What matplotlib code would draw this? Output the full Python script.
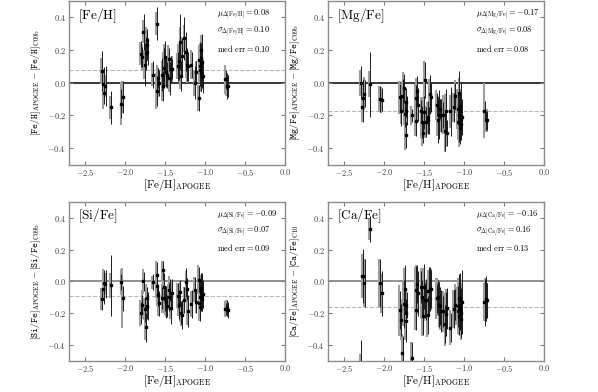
import matplotlib
matplotlib.use("Agg")
import matplotlib.pyplot as plt
import numpy as np

plt.rcParams['mathtext.fontset'] = 'cm'
plt.rcParams['font.family'] = 'serif'
plt.rcParams['font.serif'] = ['DejaVu Serif']

# [Fe/H]_APOGEE of the stars (same stars in every panel)
feh = [-2.29, -2.27, -2.265, -2.245, -2.18, -2.05, -2.025, -1.80, -1.785, -1.77,
       -1.75, -1.74, -1.73, -1.725, -1.72, -1.65, -1.605, -1.60, -1.59, -1.575,
       -1.535, -1.525, -1.515, -1.505, -1.49, -1.475, -1.455, -1.445, -1.43, -1.41,
       -1.34, -1.325, -1.31, -1.30, -1.29, -1.26, -1.235, -1.225, -1.215, -1.17,
       -1.13, -1.11, -1.075, -1.07, -1.065, -1.06, -1.055, -1.05, -1.048, -1.045,
       -1.04, -1.035, -1.03, -0.745, -0.73, -0.71]

d_feh = [0.072, -0.005, -0.062, -0.02, -0.15, -0.127, -0.087, 0.177, 0.157, 0.31,
         0.11, 0.18, 0.26, 0.23, 0.19, 0.05, 0.36, -0.05, 0.03, 0.0,
         0.05, -0.02, 0.09, 0.155, 0.065, 0.046, 0.143, 0.026, 0.085, 0.085,
         0.10, 0.135, 0.25, 0.04, 0.16, 0.27, 0.19, 0.11, 0.10, 0.11,
         0.0, 0.065, -0.093, 0.14, 0.10, 0.08, 0.15, 0.12, 0.06, 0.20,
         0.035, 0.125, 0.04, 0.02, -0.02, -0.02]
e_feh = [0.12, 0.10, 0.07, 0.12, 0.10, 0.09, 0.10, 0.08, 0.06, 0.11,
         0.13, 0.10, 0.07, 0.09, 0.08, 0.08, 0.10, 0.09, 0.06, 0.08,
         0.10, 0.09, 0.12, 0.10, 0.09, 0.08, 0.07, 0.10, 0.08, 0.06,
         0.09, 0.12, 0.17, 0.09, 0.11, 0.13, 0.12, 0.10, 0.09, 0.08,
         0.10, 0.07, 0.08, 0.11, 0.12, 0.10, 0.09, 0.08, 0.11, 0.10,
         0.07, 0.08, 0.10, 0.06, 0.08, 0.07]
g_feh = [0.08, 0.09, 0.10, 0.07, 0.07, 0.13, 0.10, 0.07, 0.08, 0.07,
         0.09, 0.07, 0.08, 0.07, 0.06, 0.07, 0.07, 0.11, 0.08, 0.09,
         0.08, 0.09, 0.10, 0.08, 0.09, 0.07, 0.09, 0.08, 0.07, 0.08,
         0.08, 0.10, 0.09, 0.08, 0.12, 0.08, 0.09, 0.08, 0.10, 0.09,
         0.08, 0.07, 0.08, 0.09, 0.10, 0.08, 0.09, 0.10, 0.08, 0.09,
         0.09, 0.08, 0.07, 0.09, 0.06, 0.07]

d_mg = [0.0, -0.15, -0.095, -0.066, -0.01, -0.10, -0.105, -0.09, -0.175, -0.08,
        -0.035, -0.19, -0.12, -0.32, -0.17, -0.20, -0.235, -0.095, -0.05, -0.135,
        -0.175, -0.24, -0.305, -0.18, 0.015, -0.24, -0.21, -0.23, -0.07, -0.09,
        -0.135, -0.225, -0.195, -0.16, -0.20, -0.195, -0.295, -0.17, -0.305, -0.175,
        -0.15, -0.083, -0.16, -0.24, -0.20, -0.06, -0.175, -0.275, -0.205, -0.14,
        -0.22, -0.25, -0.21, -0.17, -0.23, -0.23]
e_mg = [0.10, 0.09, 0.12, 0.08, 0.20, 0.08, 0.07, 0.08, 0.09, 0.10,
        0.09, 0.08, 0.09, 0.08, 0.09, 0.04, 0.09, 0.08, 0.09, 0.10,
        0.07, 0.10, 0.06, 0.10, 0.11, 0.09, 0.10, 0.08, 0.12, 0.09,
        0.07, 0.14, 0.15, 0.06, 0.10, 0.08, 0.12, 0.13, 0.08, 0.15,
        0.09, 0.08, 0.10, 0.12, 0.15, 0.13, 0.11, 0.10, 0.09, 0.14,
        0.12, 0.10, 0.11, 0.06, 0.06, 0.06]
g_mg = [0.08, 0.09, 0.10, 0.10, 0.08, 0.08, 0.08, 0.10, 0.08, 0.09,
        0.10, 0.07, 0.08, 0.09, 0.08, 0.06, 0.09, 0.09, 0.08, 0.10,
        0.09, 0.10, 0.08, 0.09, 0.12, 0.10, 0.09, 0.08, 0.09, 0.07,
        0.09, 0.10, 0.09, 0.08, 0.10, 0.12, 0.13, 0.10, 0.09, 0.10,
        0.09, 0.10, 0.12, 0.11, 0.10, 0.09, 0.10, 0.12, 0.11, 0.10,
        0.09, 0.10, 0.09, 0.17, 0.07, 0.07]

d_si = [-0.113, -0.046, -0.01, -0.018, -0.026, -0.004, -0.107, -0.20, -0.147, 0.0,
        -0.177, -0.29, -0.107, -0.16, -0.157, -0.006, 0.04, -0.027, -0.087, -0.14,
        -0.107, 0.07, -0.037, -0.107, -0.133, -0.157, -0.10, -0.056, -0.167, -0.073,
        -0.09, -0.147, -0.07, -0.197, -0.21, -0.117, -0.006, -0.05, -0.187, -0.143,
        -0.052, -0.13, 0.01, -0.137, -0.16, -0.096, -0.064, -0.045, -0.07, -0.04,
        -0.09, -0.11, -0.08, -0.175, -0.17, -0.183]
e_si = [0.07, 0.10, 0.08, 0.09, 0.19, 0.05, 0.08, 0.07, 0.06, 0.06,
        0.08, 0.09, 0.07, 0.08, 0.09, 0.05, 0.08, 0.07, 0.07, 0.08,
        0.07, 0.06, 0.09, 0.08, 0.10, 0.07, 0.09, 0.07, 0.10, 0.09,
        0.08, 0.09, 0.08, 0.07, 0.09, 0.08, 0.09, 0.07, 0.10, 0.09,
        0.08, 0.07, 0.08, 0.10, 0.09, 0.11, 0.08, 0.10, 0.12, 0.09,
        0.10, 0.08, 0.09, 0.04, 0.05, 0.05]
g_si = [0.07, 0.08, 0.09, 0.07, 0.08, 0.08, 0.19, 0.08, 0.09, 0.08,
        0.07, 0.08, 0.09, 0.08, 0.07, 0.04, 0.09, 0.08, 0.07, 0.08,
        0.09, 0.06, 0.08, 0.09, 0.08, 0.07, 0.08, 0.09, 0.07, 0.08,
        0.08, 0.07, 0.08, 0.06, 0.07, 0.08, 0.07, 0.08, 0.09, 0.08,
        0.08, 0.07, 0.09, 0.08, 0.09, 0.08, 0.09, 0.08, 0.09, 0.08,
        0.09, 0.08, 0.07, 0.05, 0.05, 0.04]

d_ca = [-0.58, 0.034, 0.034, -0.01, 0.33, -0.01, -0.077, -0.183, -0.243, -0.455,
        -0.143, -0.046, -0.253, -0.20, -0.15, -0.484, -0.052, -0.18, -0.018, -0.076,
        -0.036, -0.10, -0.217, -0.034, -0.12, -0.117, -0.21, -0.062, -0.05, -0.05,
        -0.107, -0.10, -0.147, -0.157, -0.187, -0.19, -0.267, -0.207, -0.17, -0.293,
        -0.177, -0.147, -0.157, -0.19, -0.107, -0.217, -0.147, -0.167, -0.117, -0.183,
        -0.20, -0.24, -0.13, -0.133, -0.11, -0.12]
e_ca = [0.21, 0.17, 0.10, 0.15, 0.08, 0.15, 0.14, 0.12, 0.10, 0.11,
        0.15, 0.15, 0.13, 0.09, 0.08, 0.10, 0.15, 0.13, 0.12, 0.14,
        0.10, 0.11, 0.12, 0.14, 0.11, 0.13, 0.12, 0.15, 0.14, 0.12,
        0.09, 0.11, 0.14, 0.12, 0.13, 0.10, 0.12, 0.14, 0.13, 0.09,
        0.12, 0.10, 0.13, 0.14, 0.15, 0.12, 0.16, 0.13, 0.17, 0.14,
        0.15, 0.12, 0.20, 0.15, 0.14, 0.11]
g_ca = [0.12, 0.14, 0.13, 0.15, 0.07, 0.15, 0.12, 0.16, 0.13, 0.12,
        0.14, 0.13, 0.12, 0.11, 0.10, 0.10, 0.14, 0.13, 0.12, 0.13,
        0.12, 0.14, 0.13, 0.12, 0.13, 0.12, 0.14, 0.13, 0.12, 0.13,
        0.13, 0.12, 0.14, 0.13, 0.12, 0.13, 0.14, 0.13, 0.12, 0.11,
        0.12, 0.13, 0.12, 0.14, 0.13, 0.12, 0.13, 0.14, 0.13, 0.12,
        0.14, 0.13, 0.12, 0.12, 0.13, 0.11]

panels = [
    (r'\mathrm{Fe/H}', r'\mathtt{Fe/H}', 'C09b', d_feh, e_feh, g_feh, '0.08', '0.10', '0.10', 0.08, 'k'),
    (r'\mathrm{Mg/Fe}', r'\mathtt{Mg/Fe}', 'C09b', d_mg, e_mg, g_mg, '-0.17', '0.08', '0.08', -0.17, 'k'),
    (r'\mathrm{Si/Fe}', r'\mathtt{Si/Fe}', 'C09b', d_si, e_si, g_si, '-0.09', '0.07', '0.09', -0.09, '0.45'),
    (r'\mathrm{Ca/Fe}', r'\mathtt{Ca/Fe}', 'C10', d_ca, e_ca, g_ca, '-0.16', '0.16', '0.13', -0.16, '0.45'),
]

positions = [[0.1154, 0.58, 0.361, 0.418], [0.5485, 0.58, 0.361, 0.418],
             [0.1154, 0.08, 0.361, 0.405], [0.5485, 0.08, 0.361, 0.405]]

xt = [-2.5, -2.0, -1.5, -1.0, -0.5, 0.0]
yt = [-0.4, -0.2, 0.0, 0.2, 0.4]

fig = plt.figure(figsize=(5.98, 3.92), dpi=100)
x = np.array(feh)

for pos, (lab, ylab, ref, d, e, g, mu, sig, med, mean, zc) in zip(positions, panels):
    ax = fig.add_axes(pos)
    ax.errorbar(x - 0.006, d, yerr=g, fmt='none', ecolor='0.62', elinewidth=1.5, capsize=0, zorder=2)
    ax.errorbar(x + 0.004, d, yerr=e, fmt='none', ecolor='0.1', elinewidth=0.7, capsize=0, zorder=3)
    ax.plot(x, d, 's', color='k', ms=1.6, zorder=4)
    ax.axhline(0, color=zc, lw=1.1, zorder=1)
    ax.axhline(mean, color='0.72', lw=0.8, ls='--', zorder=1)
    ax.set_xlim(-2.7, 0.0)
    ax.set_ylim(-0.5, 0.5)
    ax.set_xticks(xt)
    ax.set_yticks(yt)
    ax.set_xticklabels([r'$%.1f$' % v for v in xt])
    ax.set_yticklabels([r'$%.1f$' % v for v in yt])
    ax.tick_params(direction='in', top=True, right=True, labelsize=6, length=3,
                   color='0.5', labelcolor='0.25', pad=2)
    for s in ax.spines.values():
        s.set_color('0.55')
        s.set_linewidth(1.0)
    ax.set_xlabel(r'$[\mathrm{Fe/H}]_{\mathrm{APOGEE}}$', fontsize=8, labelpad=-1)
    ax.set_ylabel(r'$[%s]_{\mathrm{APOGEE}} - [%s]_{\mathrm{%s}}$' % (ylab, ylab, ref),
                  fontsize=6.8, labelpad=3)
    ax.text(0.04, 0.91, r'$[%s]$' % lab, transform=ax.transAxes, fontsize=9.5, va='center')
    ax.text(0.685, 0.915, r'$\mu_{\Delta[%s]} = %s$' % (lab, mu), transform=ax.transAxes,
            fontsize=6, va='center')
    ax.text(0.685, 0.815, r'$\sigma_{\Delta[%s]} = %s$' % (lab, sig), transform=ax.transAxes,
            fontsize=6, va='center')
    ax.text(0.685, 0.71, r'$\mathrm{med\ err} = %s$' % med, transform=ax.transAxes,
            fontsize=6, va='center')

fig.savefig('out.png', dpi=100)
